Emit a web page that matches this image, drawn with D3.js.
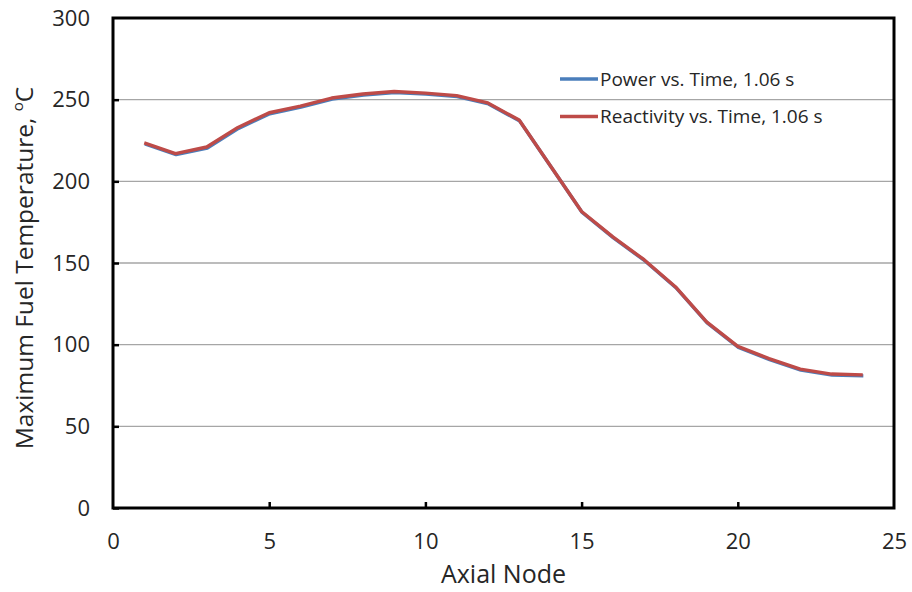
<!DOCTYPE html>
<html>
<head>
<meta charset="utf-8">
<script src="https://cdn.jsdelivr.net/npm/d3@7/dist/d3.min.js"></script>
<style>
  html, body { margin: 0; padding: 0; background: #fff; }
  text { font-family: "Open Sans", "Noto Sans", sans-serif; fill: #262626; }
</style>
</head>
<body>
<svg id="chart" width="912" height="592"></svg>
<script>
// Axial node positions
const nodes = [1, 2, 3, 4, 5, 6, 7, 8, 9, 10, 11, 12, 13, 14, 15, 16, 17, 18, 19, 20, 21, 22, 23, 24];
// Maximum fuel temperature (°C) at 1.06 s
const powerTemps = [223.5, 217, 221, 233, 242, 246, 251, 253.5, 255, 254, 252.5, 248, 237.5, 209.5, 181.5, 166, 152, 135.5, 114, 99, 91.5, 85, 82, 81.5];
const reactivityTemps = [223.5, 217, 221, 233, 242, 246, 251, 253.5, 255, 254, 252.5, 248, 237.5, 209.5, 181.5, 166, 152, 135.5, 114, 99, 91.5, 85, 82, 81.5];
const xTicks = [0, 5, 10, 15, 20, 25];
const yTicks = [0, 50, 100, 150, 200, 250, 300];
const seriesNames = ["Power vs. Time, 1.06 s", "Reactivity vs. Time, 1.06 s"];
const seriesColors = ["#4a7ebb", "#be4b48"];

const svg = d3.select("#chart");
const margin = { left: 113, right: 18, top: 18, bottom: 84 };
const W = 912, H = 592;

const x = d3.scaleLinear().domain([0, 25]).range([margin.left, W - margin.right]);
const y = d3.scaleLinear().domain([0, 300]).range([H - margin.bottom, margin.top]);

// Horizontal gridlines
svg.append("g").selectAll("line")
  .data(yTicks.filter(v => v > 0 && v < 300))
  .join("line")
  .attr("x1", x(0)).attr("x2", x(25))
  .attr("y1", d => y(d)).attr("y2", d => y(d))
  .attr("stroke", "#a6a6a6").attr("stroke-width", 1.3);

// Axes with inward ticks
const yAxis = svg.append("g")
  .attr("transform", `translate(${x(0)},0)`)
  .call(d3.axisLeft(y).tickValues(yTicks).tickSize(-6).tickPadding(23).tickFormat(d3.format("d")));
const xAxis = svg.append("g")
  .attr("transform", `translate(0,${y(0)})`)
  .call(d3.axisBottom(x).tickValues(xTicks).tickSize(-6).tickPadding(25).tickFormat(d3.format("d")));

[yAxis, xAxis].forEach(a => {
  a.select(".domain").remove();
  a.selectAll(".tick line").attr("stroke", "#000").attr("stroke-width", 2.5);
  a.selectAll(".tick text").attr("font-size", 22).attr("fill", "#262626")
    .attr("font-family", "'Open Sans', sans-serif");
});
yAxis.selectAll(".tick").filter(d => d === 300).select("line").remove();
xAxis.selectAll(".tick").filter(d => d === 0 || d === 25).select("line").remove();

// Plot frame
svg.append("rect")
  .attr("x", x(0)).attr("y", y(300))
  .attr("width", x(25) - x(0)).attr("height", y(0) - y(300))
  .attr("fill", "none").attr("stroke", "#000").attr("stroke-width", 3);

// Series lines
const line = d3.line().x((d, i) => x(nodes[i])).y(d => y(d));
svg.append("path")
  .datum(powerTemps)
  .attr("d", line)
  .attr("transform", "translate(0.6,1)")
  .attr("fill", "none").attr("stroke", seriesColors[0]).attr("stroke-width", 3.4)
  .attr("stroke-linejoin", "round");
svg.append("path")
  .datum(reactivityTemps)
  .attr("d", line)
  .attr("fill", "none").attr("stroke", seriesColors[1]).attr("stroke-width", 3.4)
  .attr("stroke-linejoin", "round");

// Legend
const legend = svg.append("g");
seriesNames.forEach((name, i) => {
  const ly = 79 + i * 37.5;
  legend.append("line")
    .attr("x1", 560).attr("x2", 598).attr("y1", ly).attr("y2", ly)
    .attr("stroke", seriesColors[i]).attr("stroke-width", 3.4);
  legend.append("text")
    .attr("x", 600).attr("y", ly + 6.8)
    .attr("font-size", 19)
    .attr("fill", "#000")
    .text(name);
});

// Axis titles
svg.append("text")
  .attr("x", (x(0) + x(25)) / 2).attr("y", 583)
  .attr("text-anchor", "middle").attr("font-size", 25)
  .text("Axial Node");

const yTitle = svg.append("text")
  .attr("transform", `translate(33,${(y(0) + y(300)) / 2 + 5}) rotate(-90)`)
  .attr("text-anchor", "middle").attr("font-size", 24.5);
yTitle.append("tspan").text("Maximum Fuel Temperature, ");
yTitle.append("tspan").attr("font-size", 15).attr("dy", -10).text("o");
yTitle.append("tspan").attr("dy", 10).text("C");
</script>
</body>
</html>
